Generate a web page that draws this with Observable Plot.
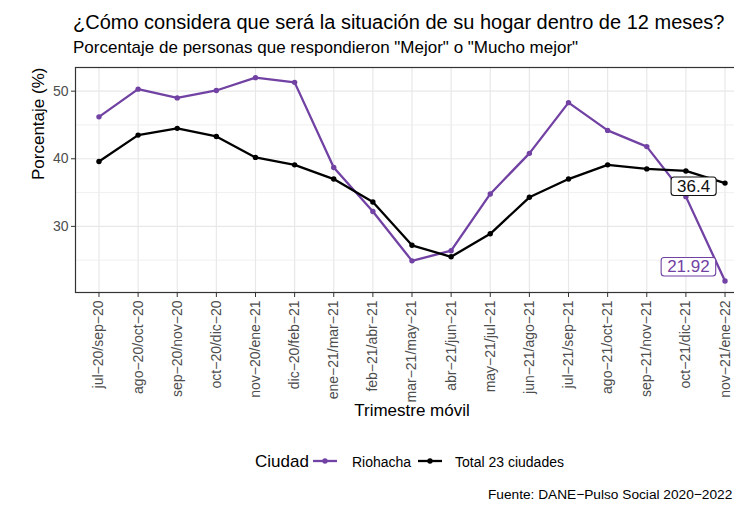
<!DOCTYPE html>
<html>
<head>
<meta charset="utf-8">
<script src="https://cdn.jsdelivr.net/npm/d3@7"></script>
<script src="https://cdn.jsdelivr.net/npm/@observablehq/plot@0.6"></script>
<style>
  body { margin: 0; background: #fff; }
  #wrap { position: relative; width: 734px; height: 505px; overflow: hidden; background: #fff;
          font-family: "Liberation Sans", Arial, Helvetica, sans-serif; }
  .t { position: absolute; white-space: nowrap; line-height: 1; color: #000; }
  #chart { position: absolute; left: 0; top: 0; width: 748px; }
  #chart svg { max-width: none !important; }
  .key { position: absolute; }
</style>
</head>
<body>
<div id="wrap">
  <div class="t" style="left:73px;top:11.5px;font-size:20px">¿Cómo considera que será la situación de su hogar dentro de 12 meses?</div>
  <div class="t" style="left:73px;top:39px;font-size:17px">Porcentaje de personas que respondieron "Mejor" o "Mucho mejor"</div>
  <div id="chart"></div>
  <div id="legend"></div>
  <div class="t" style="left:488px;top:487.5px;font-size:13.7px">Fuente: DANE−Pulso Social 2020−2022</div>
</div>
<script>
const categories = [
  "jul-20/sep-20", "ago-20/oct-20", "sep-20/nov-20", "oct-20/dic-20", "nov-20/ene-21",
  "dic-20/feb-21", "ene-21/mar-21", "feb-21/abr-21", "mar-21/may-21", "abr-21/jun-21",
  "may-21/jul-21", "jun-21/ago-21", "jul-21/sep-21", "ago-21/oct-21", "sep-21/nov-21",
  "oct-21/dic-21", "nov-21/ene-22"
];
const riohacha = [46.2, 50.3, 49.0, 50.1, 52.0, 51.3, 38.7, 32.2, 24.9, 26.4, 34.8, 40.8, 48.3, 44.2, 41.8, 34.4, 21.92];
const total    = [39.6, 43.5, 44.5, 43.3, 40.2, 39.1, 37.0, 33.6, 27.2, 25.5, 28.9, 34.3, 37.0, 39.1, 38.5, 38.2, 36.4];
const seriesNames = ["Riohacha", "Total 23 ciudades"];
const seriesColors = ["#7142a3", "#000000"];
const yTicks = [30, 40, 50];
const yMinor = [25, 35, 45];
const legendTitle = "Ciudad";
const xTitle = "Trimestre móvil";
const yTitle = "Porcentaje (%)";

const rows = [];
categories.forEach((c, i) => rows.push({i, cat: c, value: riohacha[i], serie: seriesNames[0]}));
categories.forEach((c, i) => rows.push({i, cat: c, value: total[i], serie: seriesNames[1]}));
const last = categories.length - 1;
const lastRio = rows.filter(d => d.serie === seriesNames[0] && d.i === last);
const lastTot = rows.filter(d => d.serie === seriesNames[1] && d.i === last);
const idx = d3.range(categories.length);

const plot = Plot.plot({
  width: 748,
  height: 430,
  marginTop: 67,
  marginBottom: 138,
  marginLeft: 75,
  marginRight: 0,
  style: {fontFamily: '"Liberation Sans", Arial, Helvetica, sans-serif', fontSize: "14px", background: "transparent", maxWidth: "none"},
  x: {type: "linear", domain: [-0.6, last + 0.6], axis: null},
  y: {domain: [20.22, 53.5], axis: null},
  color: {domain: seriesNames, range: seriesColors},
  marks: [
    Plot.ruleX(idx, {stroke: "#e8e8e8", strokeWidth: 1.2}),
    Plot.ruleY(yMinor, {stroke: "#ececec", strokeWidth: 0.8}),
    Plot.ruleY(yTicks, {stroke: "#e8e8e8", strokeWidth: 1.2}),
    Plot.line(rows, {x: "i", y: "value", z: "serie", stroke: "serie", strokeWidth: 2.3}),
    Plot.dot(rows, {x: "i", y: "value", fill: "serie", r: 2.7}),
    Plot.frame({stroke: "#333333", strokeWidth: 1.2}),
    Plot.axisY({ticks: yTicks, tickSize: 4, tickPadding: 3, fontSize: 14, stroke: "#333333", fill: "#4d4d4d", label: null}),
    Plot.axisX({ticks: idx, tickFormat: i => categories[i].replaceAll("-", "−"), tickRotate: -90,
                tickSize: 5, tickPadding: 3, fontSize: 14, stroke: "#333333", fill: "#4d4d4d", label: null}),
    Plot.text([yTitle], {frameAnchor: "left", rotate: -90, dx: -37, fontSize: 17, fill: "#000"}),
    Plot.text([xTitle], {frameAnchor: "bottom", lineAnchor: "middle", dy: 118, fontSize: 17, fill: "#000"}),
    Plot.text(lastTot, {x: "i", y: "value", text: d => String(d.value), dx: -31.4, dy: 3, fontSize: 17, fill: "#111"}),
    Plot.text(lastRio, {x: "i", y: "value", text: d => String(d.value), dx: -36.6, dy: -14.5, fontSize: 17, fill: seriesColors[0]})
  ]
});
document.getElementById("chart").appendChild(plot);

// boxes behind the end labels
const labelTexts = {[String(total[last])]: "#111", [String(riohacha[last])]: seriesColors[0]};
plot.querySelectorAll("text").forEach(t => {
  const s = t.textContent;
  if (s in labelTexts) {
    const b = t.getBBox();
    const r = document.createElementNS("http://www.w3.org/2000/svg", "rect");
    r.setAttribute("x", b.x - 6);
    r.setAttribute("y", b.y + 0.5);
    r.setAttribute("width", b.width + 12);
    r.setAttribute("height", b.height - 0.5);
    r.setAttribute("rx", 3);
    r.setAttribute("fill", "#fff");
    r.setAttribute("stroke", labelTexts[s]);
    r.setAttribute("stroke-width", 1.1);
    if (t.getAttribute("transform")) r.setAttribute("transform", t.getAttribute("transform"));
    t.parentNode.insertBefore(r, t);
  }
});

// legend
const lg = document.getElementById("legend");
function addText(txt, left, top, size) {
  const d = document.createElement("div");
  d.className = "t"; d.textContent = txt;
  d.style.left = left + "px"; d.style.top = top + "px"; d.style.fontSize = size + "px";
  lg.appendChild(d);
}
function addKey(color, left) {
  const ns = "http://www.w3.org/2000/svg";
  const s = document.createElementNS(ns, "svg");
  s.setAttribute("class", "key"); s.setAttribute("width", 26); s.setAttribute("height", 12);
  s.style.left = left + "px"; s.style.top = "455px";
  const l = document.createElementNS(ns, "line");
  l.setAttribute("x1", 1); l.setAttribute("x2", 25); l.setAttribute("y1", 6); l.setAttribute("y2", 6);
  l.setAttribute("stroke", color); l.setAttribute("stroke-width", 2.3);
  const c = document.createElementNS(ns, "circle");
  c.setAttribute("cx", 13); c.setAttribute("cy", 6); c.setAttribute("r", 2.7); c.setAttribute("fill", color);
  s.appendChild(l); s.appendChild(c); lg.appendChild(s);
}
addText(legendTitle, 255, 452.6, 17);
addKey(seriesColors[0], 312);
addText(seriesNames[0], 352, 455.1, 14);
addKey(seriesColors[1], 417);
addText(seriesNames[1], 455, 455.1, 14);
</script>
</body>
</html>
